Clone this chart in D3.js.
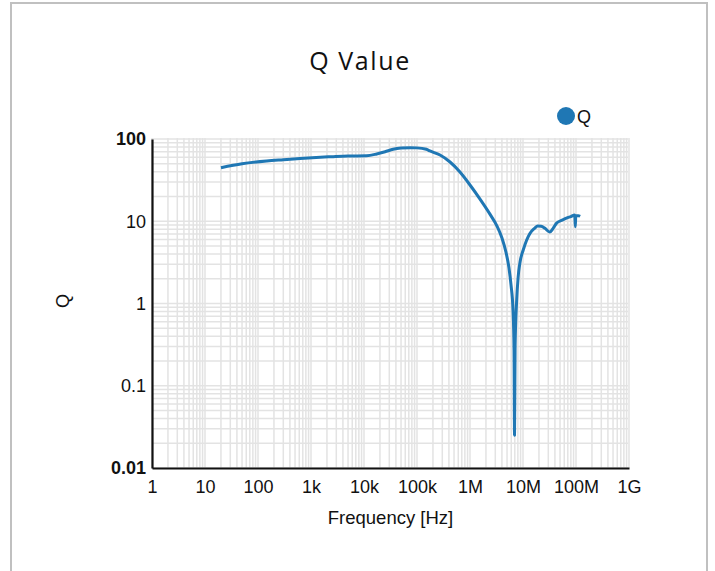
<!DOCTYPE html>
<html>
<head>
<meta charset="utf-8">
<script src="https://cdn.jsdelivr.net/npm/d3@7"></script>
<style>
  body { margin: 0; background: #fff; }
  svg { display: block; }
</style>
</head>
<body>
<div id="chart"></div>
<script>
// data
const freq = [20, 50, 146, 300, 620, 1500, 2630, 5000, 11200, 17400, 25000, 35500, 50000, 74000,
  100000, 150000, 176000, 272000, 420000, 647000, 1000000, 1545000, 2380000, 3230000, 4010000,
  4770000, 5440000, 5940000, 6480000, 6770000, 6920000, 7100000, 7600000, 8100000, 8800000,
  10100000, 13500000, 16500000, 19000000, 22000000, 26000000, 32000000, 37000000, 43000000,
  55000000, 66000000, 80000000, 95000000, 97000000, 99000000, 110000000, 120000000]
const qValue = [44.8, 50, 54, 56, 58, 60, 61, 62, 62.5, 65.8, 70, 75, 77.5, 78.3,
  78, 75, 71.5, 63.8, 52.5, 39.7, 27.6, 18.6, 12.2, 8.75, 6.25,
  4.22, 2.7, 1.68, 0.83, 0.27, 0.025, 0.3, 1.1, 2.1, 3.2,
  4.47, 7.1, 8.2, 8.75, 8.7, 8.2, 7.4, 8.2, 9.5,
  10.3, 10.9, 11.4, 11.9, 8.6, 11.7, 11.7, 11.5]

const xTickValues = [1, 1e1, 1e2, 1e3, 1e4, 1e5, 1e6, 1e7, 1e8, 1e9]
const xTickLabels = ["1", "10", "100", "1k", "10k", "100k", "1M", "10M", "100M", "1G"]
const yTickValues = [0.01, 0.1, 1, 10, 100]
const yTickLabels = ["0.01", "0.1", "1", "10", "100"]

const width = 715
const height = 571
const plot = { left: 152, right: 629, top: 139, bottom: 468 }
const blue = "#1f77b4"
const labelFont = "Liberation Sans, Arial, sans-serif"

const svg = d3.select("#chart")
  .append("svg")
  .attr("width", width)
  .attr("height", height)

// frame round the whole chart
svg.append("rect")
  .attr("x", 11).attr("y", 3)
  .attr("width", 696).attr("height", 620)
  .attr("fill", "none")
  .attr("stroke", "#c0c0c0")
  .attr("stroke-width", 2)

const x = d3.scaleLog().domain([1, 1e9]).range([plot.left, plot.right])
const y = d3.scaleLog().domain([0.01, 100]).range([plot.bottom, plot.top])

// grid, every 1..9 in each decade
const grid = svg.append("g").attr("class", "grid")
grid.selectAll("line.vx")
  .data(x.ticks())
  .enter()
    .append("line")
    .attr("class", "vx")
    .attr("x1", d => x(d)).attr("x2", d => x(d))
    .attr("y1", plot.top - 1).attr("y2", plot.bottom)
grid.selectAll("line.hy")
  .data(y.ticks())
  .enter()
    .append("line")
    .attr("class", "hy")
    .attr("x1", plot.left).attr("x2", plot.right - 1)
    .attr("y1", d => y(d)).attr("y2", d => y(d))
grid.selectAll("line")
  .attr("stroke", "#e3e3e3")
  .attr("stroke-width", 1.5)

// axes
const xAxis = svg.append("g")
  .attr("transform", `translate(0,${plot.bottom})`)
  .call(d3.axisBottom(x)
    .tickValues(xTickValues)
    .tickFormat((d, i) => xTickLabels[i])
    .tickSize(0)
    .tickPadding(12))
xAxis.select(".domain").attr("stroke", "#111").attr("stroke-width", 2.2)
xAxis.selectAll("text")
  .attr("font-family", labelFont)
  .attr("font-size", 18)
  .attr("fill", "#111")

const yAxis = svg.append("g")
  .attr("transform", `translate(${plot.left},0)`)
  .call(d3.axisLeft(y)
    .tickValues(yTickValues)
    .tickFormat((d, i) => yTickLabels[i])
    .tickSize(0)
    .tickPadding(6))
yAxis.select(".domain").attr("stroke", "#111").attr("stroke-width", 2.2)
yAxis.selectAll("text")
  .attr("font-family", labelFont)
  .attr("font-size", 18)
  .attr("fill", "#111")
  .attr("font-weight", (d, i) => (i === 0 || i === yTickLabels.length - 1) ? "bold" : "normal")

// the Q curve
const points = freq.map((f, i) => [x(f), y(qValue[i])])
svg.append("path")
  .attr("d", d3.line().curve(d3.curveMonotoneX)(points))
  .attr("fill", "none")
  .attr("stroke", blue)
  .attr("stroke-width", 3)
  .attr("stroke-linejoin", "round")

// title, labels, legend
svg.append("text")
  .attr("x", 360).attr("y", 70)
  .attr("text-anchor", "middle")
  .attr("font-family", "Open Sans, Noto Sans, sans-serif")
  .attr("font-size", 25)
  .attr("font-weight", 500)
  .attr("letter-spacing", 1.6)
  .attr("fill", "#111")
  .text("Q Value")

svg.append("text")
  .attr("x", (plot.left + plot.right) / 2).attr("y", 524)
  .attr("text-anchor", "middle")
  .attr("font-family", labelFont)
  .attr("font-size", 18.5)
  .attr("fill", "#111")
  .text("Frequency [Hz]")

svg.append("text")
  .attr("transform", "translate(69,301) rotate(-90)")
  .attr("text-anchor", "middle")
  .attr("font-family", labelFont)
  .attr("font-size", 18)
  .attr("fill", "#111")
  .text("Q")

const legend = svg.append("g").attr("transform", "translate(566,116)")
legend.append("circle")
  .attr("r", 9)
  .attr("fill", blue)
legend.append("text")
  .attr("x", 11).attr("y", 6.5)
  .attr("font-family", labelFont)
  .attr("font-size", 18)
  .attr("fill", "#111")
  .text("Q")
</script>
</body>
</html>
